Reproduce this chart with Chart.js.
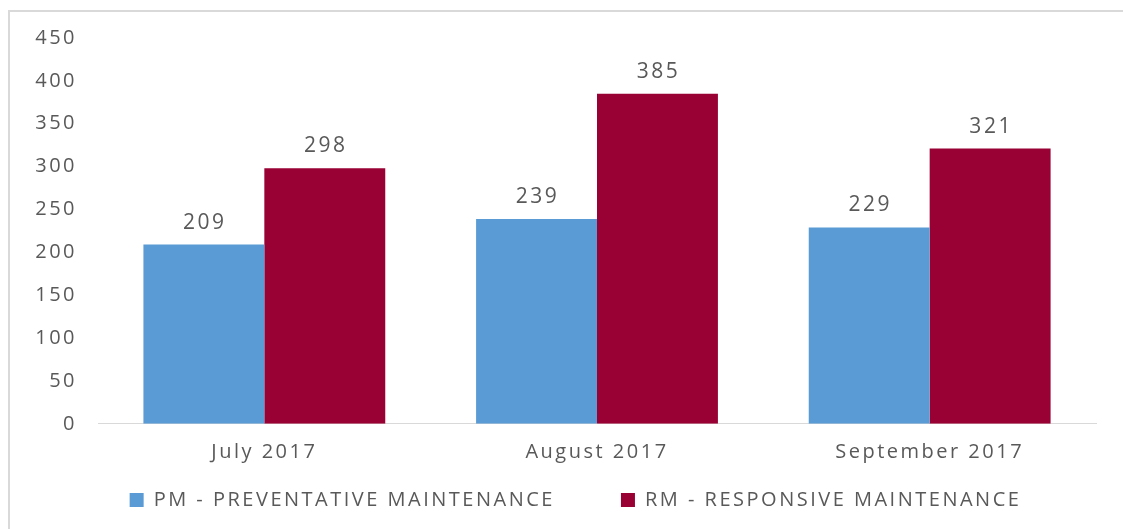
<!DOCTYPE html>
<html>
<head>
<meta charset="utf-8">
<script src="https://cdn.jsdelivr.net/npm/chart.js@4/dist/chart.umd.min.js"></script>
<style>
  html, body { margin: 0; padding: 0; background: #ffffff; overflow: hidden; }
  #frame { position: absolute; left: 8px; top: 10px; width: 1200px; height: 600px;
           border-left: 2px solid #d9d9d9; border-top: 2px solid #d9d9d9; }
  #wrap { position: absolute; left: 0; top: 0; width: 1123px; height: 529px; }
</style>
</head>
<body>
<div id="frame"></div>
<div id="wrap"><canvas id="c" width="1123" height="529"></canvas></div>
<script>
const categories = ['July 2017', 'August 2017', 'September 2017'];
const seriesNames = ['PM - PREVENTATIVE MAINTENANCE', 'RM - RESPONSIVE MAINTENANCE'];
const pmValues = [209, 239, 229];
const rmValues = [298, 385, 321];
const yMin = 0, yMax = 450, yStep = 50;

const TEXT = '#595959';
const FONT = "'Open Sans', sans-serif";

const spacingPlugin = {
  id: 'spacing',
  beforeUpdate(chart) { chart.ctx.letterSpacing = '2.5px'; },
  beforeDraw(chart) { chart.ctx.letterSpacing = '2.5px'; }
};

const valueLabels = {
  id: 'valueLabels',
  afterDatasetsDraw(chart) {
    const ctx = chart.ctx;
    ctx.save();
    ctx.font = "21px " + FONT;
    ctx.fillStyle = TEXT;
    ctx.textAlign = 'center';
    ctx.textBaseline = 'alphabetic';
    chart.data.datasets.forEach((ds, i) => {
      const meta = chart.getDatasetMeta(i);
      meta.data.forEach((el, j) => {
        ctx.fillText(String(ds.data[j]), el.x + 1, el.y - 16);
      });
    });
    ctx.restore();
  }
};

new Chart(document.getElementById('c'), {
  type: 'bar',
  data: {
    labels: categories,
    datasets: [
      { label: seriesNames[0], data: pmValues, backgroundColor: '#5B9BD5', borderColor: '#5B9BD5', borderWidth: 0 },
      { label: seriesNames[1], data: rmValues, backgroundColor: '#990033', borderColor: '#990033', borderWidth: 0 }
    ]
  },
  options: {
    responsive: false,
    animation: false,
    devicePixelRatio: 1,
    layout: { padding: { left: 28, right: 0, top: 38, bottom: 9 } },
    datasets: { bar: { categoryPercentage: 0.727, barPercentage: 1.0 } },
    scales: {
      x: {
        grid: { display: false, drawTicks: false },
        border: { display: true, color: '#d9d9d9', width: 1 },
        ticks: { color: TEXT, font: { family: FONT, size: 20 }, padding: 16 },
        afterFit(scale) { scale.height = 45; }
      },
      y: {
        position: 'left',
        min: yMin, max: yMax,
        grid: { display: false, drawTicks: false },
        border: { display: false },
        ticks: { stepSize: yStep, color: TEXT, font: { family: FONT, size: 20 }, padding: 21 },
        afterFit(scale) { scale.width = 70; }
      },
      yRight: {
        axis: 'y',
        position: 'right',
        min: yMin, max: yMax,
        grid: { display: false, drawTicks: false },
        border: { display: false },
        ticks: { display: false },
        afterFit(scale) { scale.width = 27; }
      }
    },
    plugins: {
      tooltip: { enabled: false },
      legend: {
        position: 'bottom',
        title: { display: true, text: '', font: { size: 1 }, padding: { top: 0, bottom: -46 } },
        labels: {
          color: TEXT,
          font: { family: FONT, size: 20 },
          boxWidth: 14,
          boxHeight: 14,
          padding: 66
        }
      }
    }
  },
  plugins: [spacingPlugin, valueLabels]
});
</script>
</body>
</html>
